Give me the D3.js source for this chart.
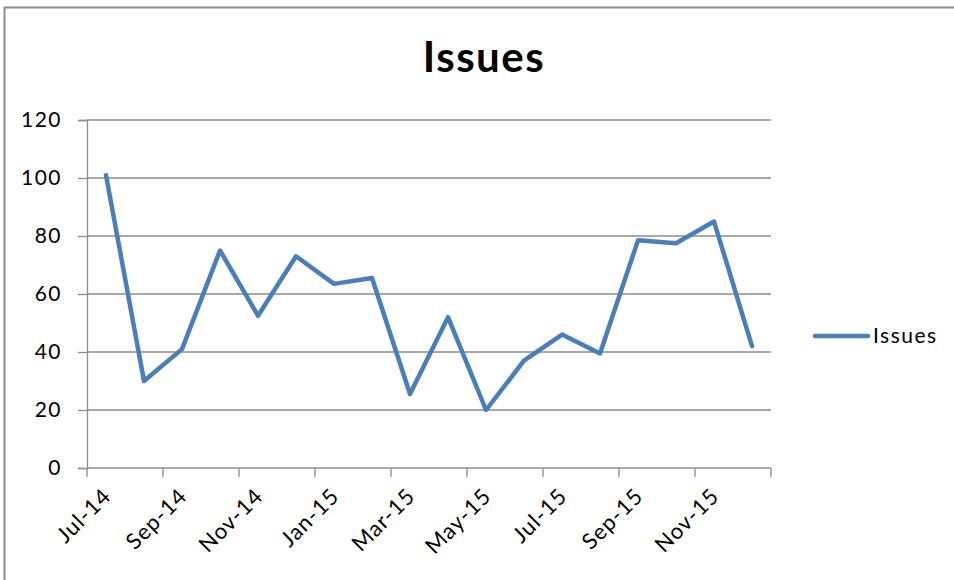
<!DOCTYPE html>
<html>
<head>
<meta charset="utf-8">
<script src="https://cdn.jsdelivr.net/npm/d3@7"></script>
<style>
  html, body { margin: 0; padding: 0; background: #fff; }
  svg { display: block; font-family: Lato, "Open Sans", sans-serif; }
</style>
</head>
<body>
<svg id="chart" width="954" height="580"></svg>
<script>
// monthly data, Jul-14 .. Dec-15
var months = ["2014-07", "2014-08", "2014-09", "2014-10", "2014-11", "2014-12",
              "2015-01", "2015-02", "2015-03", "2015-04", "2015-05", "2015-06",
              "2015-07", "2015-08", "2015-09", "2015-10", "2015-11", "2015-12"];
var issues = [101, 30, 41, 75, 52.5, 73, 63.5, 65.5, 25.5, 52, 20, 37, 46, 39.5, 78.5, 77.5, 85, 42];
var yTicks = [0, 20, 40, 60, 80, 100, 120];
var seriesName = "Issues";

var parse = d3.timeParse("%Y-%m");
var fmt = d3.timeFormat("%b-%y");
var data = months.map(function(m, i) { return { date: parse(m), value: issues[i] }; });

var svg = d3.select("#chart");
var plot = { left: 87, right: 771, top: 120, bottom: 468 };

// outer frame (right/bottom edges are cut off in the reference)
svg.append("rect")
  .attr("x", 4.5).attr("y", 7.5)
  .attr("width", 1000).attr("height", 1000)
  .attr("fill", "none").attr("stroke", "#8c8c8c").attr("stroke-width", 2);

// band scale over months, ticks at band edges
var x = d3.scaleBand()
  .domain(months)
  .range([plot.left, plot.right])
  .paddingInner(0).paddingOuter(0);

var y = d3.scaleLinear().domain([0, 120]).range([plot.bottom, plot.top]);

// gridlines
svg.append("g")
  .selectAll("line")
  .data(yTicks.slice(1))
  .enter().append("line")
    .attr("x1", plot.left).attr("x2", plot.right)
    .attr("y1", function(d) { return y(d); })
    .attr("y2", function(d) { return y(d); })
    .attr("stroke", "#8c8c8c").attr("stroke-width", 1.3);

// y axis
var yAxis = svg.append("g")
  .attr("transform", "translate(" + plot.left + ",0)")
  .call(d3.axisLeft(y).tickValues(yTicks).tickSize(9).tickPadding(16));
yAxis.select(".domain").attr("stroke", "#8c8c8c").attr("stroke-width", 1.3);
yAxis.selectAll(".tick line").attr("stroke", "#8c8c8c").attr("stroke-width", 1.3);
yAxis.selectAll(".tick text")
  .attr("fill", "#000").style("font-size", "21px").style("letter-spacing", "1.5px")
  .style("font-family", "Lato, sans-serif");

// x axis: ticks on every other month boundary plus the end
var edgeTicks = months.filter(function(m, i) { return i % 2 === 0; });
var xg = svg.append("g").attr("transform", "translate(0," + plot.bottom + ")");
xg.append("line")
  .attr("x1", plot.left).attr("x2", plot.right)
  .attr("stroke", "#8c8c8c").attr("stroke-width", 1.3);
xg.selectAll("line.tk")
  .data(edgeTicks.map(function(m) { return x(m); }).concat([plot.right]))
  .enter().append("line")
    .attr("class", "tk")
    .attr("x1", function(d) { return d; }).attr("x2", function(d) { return d; })
    .attr("y1", 0).attr("y2", 9)
    .attr("stroke", "#8c8c8c").attr("stroke-width", 1.3);
xg.selectAll("text")
  .data(edgeTicks)
  .enter().append("text")
    .attr("transform", function(m) {
      return "translate(" + (x(m) + x.bandwidth() / 2 + 1) + ",24) rotate(-45)";
    })
    .attr("text-anchor", "end")
    .attr("dy", "0.35em")
    .style("font-size", "22px").style("letter-spacing", "1px")
    .text(function(m) { return fmt(parse(m)); });

// series line
var line = d3.line()
  .x(function(d, i) { return x(months[i]) + x.bandwidth() / 2; })
  .y(function(d) { return y(d.value); });

svg.append("path")
  .datum(data)
  .attr("fill", "none")
  .attr("stroke", "#4a7ebb")
  .attr("stroke-width", 4.5)
  .attr("stroke-linejoin", "round")
  .attr("stroke-linecap", "round")
  .attr("d", line);

// title
svg.append("text")
  .attr("x", 484).attr("y", 72)
  .attr("text-anchor", "middle")
  .style("font-size", "42px").style("font-weight", "bold").style("letter-spacing", "1.5px")
  .text(seriesName);

// legend
var lg = svg.append("g").attr("transform", "translate(815,336)");
lg.append("line").attr("x1", 0).attr("x2", 53)
  .attr("stroke", "#4a7ebb").attr("stroke-width", 4.5).attr("stroke-linecap", "round");
lg.append("text").attr("x", 58).attr("dy", "0.35em")
  .style("font-size", "21px").style("letter-spacing", "1.5px")
  .text(seriesName);
</script>
</body>
</html>
